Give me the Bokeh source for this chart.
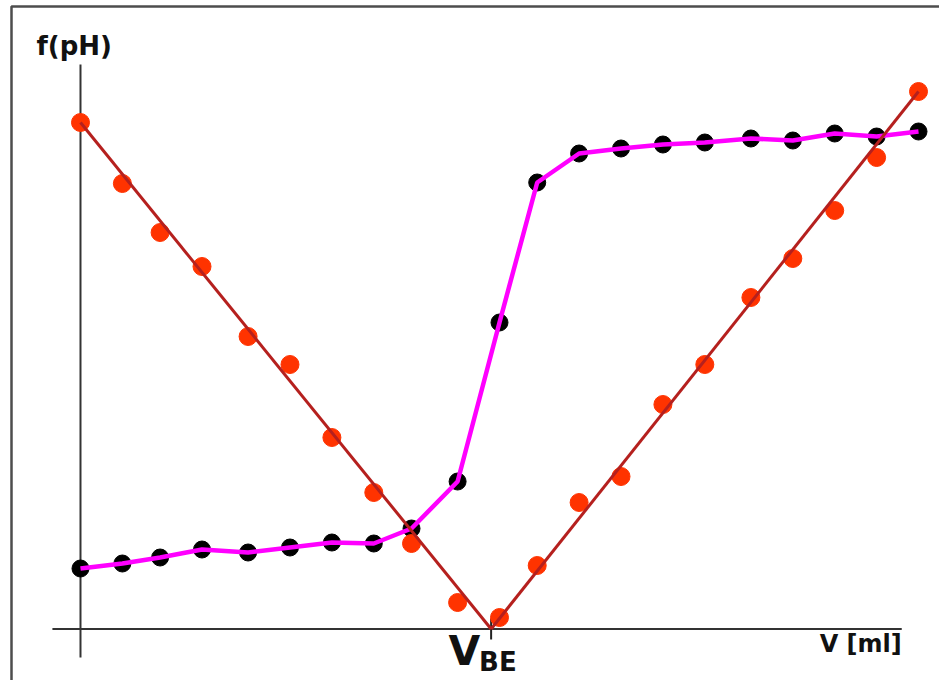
from bokeh.plotting import figure
from bokeh.core.properties import value
from bokeh.embed import file_html
from bokeh.resources import INLINE

# Titration data (volume in ml, arbitrary function units)
volume = [0, 1.0, 1.9, 2.9, 4.0, 5.0, 6.0, 7.0, 7.9, 9.0, 10.0,
          10.9, 11.9, 12.9, 13.9, 14.9, 16.0, 17.0, 18.0, 19.0, 20.0]
ph_curve = [1.21, 1.31, 1.43, 1.59, 1.53, 1.63, 1.73, 1.71, 2.01, 2.95, 6.13,
            8.93, 9.51, 9.61, 9.69, 9.73, 9.81, 9.77, 9.91, 9.85, 9.95]
gran = [10.13, 8.91, 7.93, 7.25, 5.85, 5.29, 3.83, 2.73, 1.71, 0.53, 0.23,
        1.27, 2.53, 3.05, 4.49, 5.29, 6.63, 7.41, 8.37, 9.43, 10.75]
v_be = 9.8
fit_left_x = [0, v_be]
fit_left_y = [10.13, 0]
fit_right_x = [v_be, 20.0]
fit_right_y = [0, 10.75]

# axis extents
x_axis_span = [-0.67, 19.6]
y_axis_span = [-0.57, 11.29]

W, H = 939, 680
x0, x1 = -1.909, 20.501
y0, y1 = -1.03, 12.57

p = figure(width=W, height=H, x_range=(x0, x1), y_range=(y0, y1),
           x_axis_type=None, y_axis_type=None, toolbar_location=None,
           output_backend="svg", min_border=0, outline_line_color=None,
           background_fill_color="white", border_fill_color="white")
p.xgrid.visible = False
p.ygrid.visible = False

# outer frame (top and left edges visible)
px_x = (x1 - x0) / W
px_y = (y1 - y0) / H
fx = x0 + 11 * px_x
fy = y1 - 6 * px_y
p.line([x1 + 1, fx, fx], [fy, fy, y0 - 1], line_color="#4d4d4d", line_width=2.5)

# axes
p.segment(x0=[0], y0=[y_axis_span[0]], x1=[0], y1=[y_axis_span[1]],
          line_color="#333333", line_width=2)
p.segment(x0=[x_axis_span[0]], y0=[0], x1=[x_axis_span[1]], y1=[0],
          line_color="#333333", line_width=2)
p.segment(x0=[v_be], y0=[-0.21], x1=[v_be], y1=[0.21],
          line_color="#222222", line_width=2)

# pH curve
p.scatter(volume, ph_curve, size=17, color="black")
p.line(volume, ph_curve, line_color="#ff00ff", line_width=4.5)

# Gran function points and fits
p.scatter(volume, gran, size=18, color="#ff3300")
p.line(fit_left_x, fit_left_y, line_color="#b5201e", line_width=3)
p.line(fit_right_x, fit_right_y, line_color="#b5201e", line_width=3)

font = value("DejaVu Sans")
p.text(x=[-1.05], y=[11.67], text=["f(pH)"], text_font=font,
       text_font_size="26px", text_font_style="bold", text_color="#111111",
       text_baseline="alphabetic", text_align="left")
p.text(x=[x_axis_span[1]], y=[-0.29], text=["V [ml]"], text_font=font,
       text_font_size="24px", text_font_style="bold", text_color="#111111",
       text_baseline="alphabetic", text_align="right")
p.text(x=[v_be], y=[-0.43], text=["V"], text_font=font,
       text_font_size="41px", text_font_style="bold", text_color="#111111",
       text_baseline="alphabetic", text_align="right", x_offset=-11)
p.text(x=[v_be], y=[-0.66], text=["BE"], text_font=font,
       text_font_size="26px", text_font_style="bold", text_color="#111111",
       text_baseline="alphabetic", text_align="left", x_offset=-12)

open("out.html", "w").write(file_html(p, INLINE))
